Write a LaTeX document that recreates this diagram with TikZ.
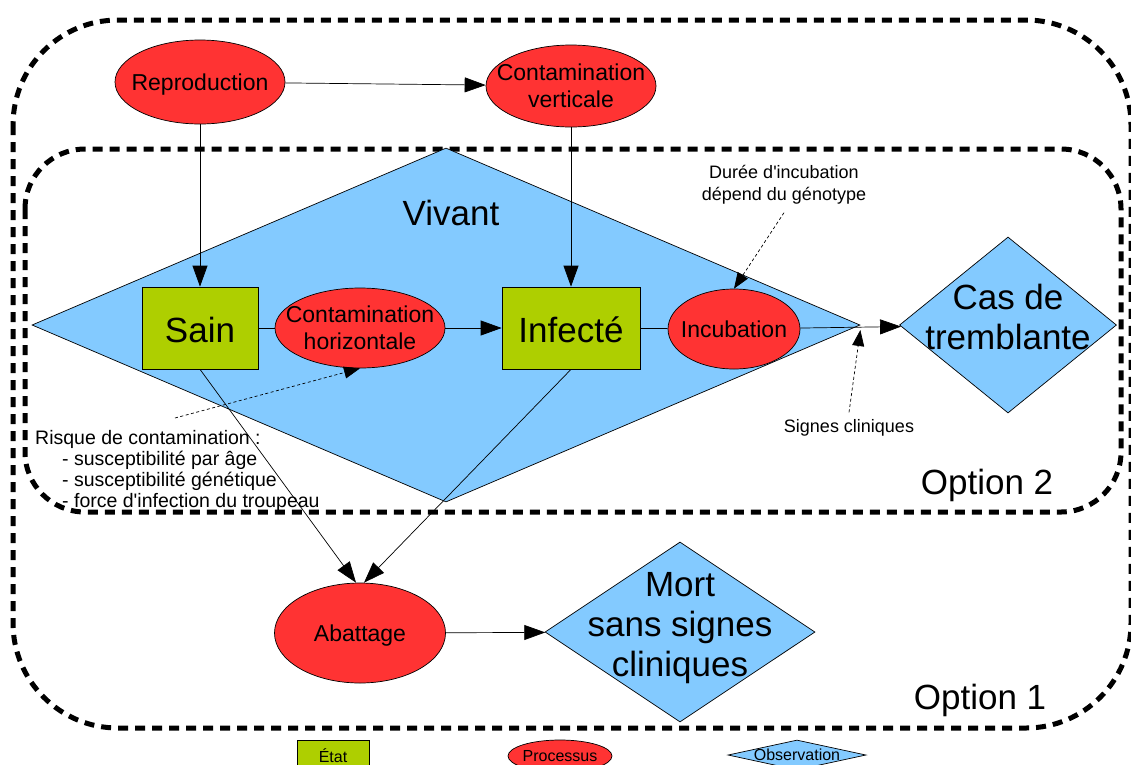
\documentclass[tikz,border=0pt]{standalone}
\usepackage{fontspec}
\setmainfont{Liberation Sans}
\usetikzlibrary{shapes.geometric,arrows.meta}

\definecolor{etatvert}{RGB}{174,207,0}
\definecolor{procrouge}{RGB}{255,51,51}
\definecolor{obsbleu}{RGB}{131,202,255}

% texte centre dans une boite de taille nulle
\newcommand{\etiq}[2][-.4em]{\makebox[0pt]{\raisebox{#1}[0pt][0pt]{\begin{tabular}{@{}c@{}}#2\end{tabular}}}}

\tikzset{
  etat/.style={draw, line width=0.7pt, fill=etatvert, inner sep=0pt, font=\fontsize{35}{40}\selectfont},
  processus/.style={draw, line width=0.7pt, ellipse, fill=procrouge, inner sep=0pt, font=\fontsize{23}{27}\selectfont},
  observation/.style={draw, line width=0.7pt, diamond, fill=obsbleu, inner sep=0pt, font=\fontsize{35}{40}\selectfont},
  fleche/.style={line width=0.7pt, -{Triangle[length=21pt,width=15pt]}},
  lien/.style={line width=0.7pt},
  renvoi/.style={line width=0.7pt, dash pattern=on 3pt off 2.5pt, -{Triangle[length=16pt,width=12pt]}},
  cadre/.style={line width=5pt, dash pattern=on 10pt off 7pt},
  grand/.style={font=\fontsize{35}{40}\selectfont, inner sep=0pt},
  note/.style={font=\fontsize{18}{22}\selectfont, align=center, inner sep=0pt},
  legende/.style={font=\fontsize{16}{18}\selectfont},
}

\begin{document}
\begin{tikzpicture}[x=1pt, y=-1pt]
\useasboundingbox[fill=white] (0,0) rectangle (1131,764);

% Options
\draw[cadre, rounded corners=105pt] (13,20) rectangle (1131,728);
\draw[cadre, rounded corners=60pt] (25,149) rectangle (1121,512);

% Vivant
\node[observation, minimum width=828pt, minimum height=354pt] (vivant) at (446,325) {};
\node[grand] (vivanttxt) at (451,213) {Vivant};

% Etats et processus
\node[processus, minimum width=170pt, minimum height=84pt] (repro) at (200,82) {\etiq{Reproduction}};
\node[processus, minimum width=170pt, minimum height=82pt] (contvert) at (571,86) {\etiq{Contamination\\verticale}};
\node[etat, minimum width=116pt, minimum height=82pt] (sain) at (200,328) {\etiq[-.35em]{Sain}};
\node[processus, minimum width=170pt, minimum height=80pt] (conthoriz) at (360,328) {\etiq{Contamination\\horizontale}};
\node[etat, minimum width=138pt, minimum height=82pt] (infecte) at (571,328) {\etiq[-.35em]{Infecté}};
\node[processus, minimum width=132pt, minimum height=80pt] (incub) at (734,329) {\etiq{Incubation}};
\node[observation, minimum width=217pt, minimum height=176pt] (cas) at (1008,325) {\etiq[-.08em]{Cas de\\tremblante}};
\node[processus, minimum width=171pt, minimum height=100pt] (abattage) at (360,633) {\etiq{Abattage}};
\node[observation, minimum width=270pt, minimum height=180pt] (mort) at (680,632) {\etiq[-.08em]{Mort\\sans signes\\cliniques}};

% Connecteurs
\draw[fleche] (repro) -- (contvert);
\draw[fleche] (repro.south) -- (sain.north);
\draw[fleche] (contvert.south) -- (infecte.north);
\draw[lien] (sain) -- (conthoriz);
\draw[fleche] (conthoriz) -- (infecte);
\draw[lien] (infecte) -- (incub);
\draw[fleche] (incub) -- (cas);
\draw[fleche] (sain.south) -- ([xshift=-4pt]abattage.north);
\draw[fleche] (infecte.south) -- ([xshift=4pt]abattage.north);
\draw[fleche] (abattage) -- (mort);

% Remarques
\node[note] (duree) at (784,185) {Durée d\textquotesingle incubation\\dépend du génotype};
\node[note] (signes) at (849,428) {Signes cliniques};
\node[anchor=north west, align=left, inner sep=0pt, font=\fontsize{19.5}{21}\selectfont] (risque) at (35,430)
  {Risque de contamination :\\
   \hspace*{27pt}- susceptibilité par âge\\
   \hspace*{27pt}- susceptibilité génétique\\
   \hspace*{27pt}- force d\textquotesingle infection du troupeau};
\coordinate (risquept) at (175,418);
\draw[renvoi] (risquept) -- (conthoriz.south);
\draw[renvoi] ([yshift=-8pt]duree.south) -- (incub.north);
\draw[renvoi] ([yshift=7pt]signes.north) -- ([yshift=-5pt]vivant.east);

\node[grand] (opt2) at (987,485) {Option 2};
\node[grand] (opt1) at (980,700) {Option 1};

% Legende
\node[etat, legende, minimum width=72pt, minimum height=32pt] (legetat) at (333,756) {\etiq{État}};
\node[processus, legende, minimum width=104pt, minimum height=32pt] (legproc) at (560,756) {\etiq{Processus}};
\node[observation, legende, minimum width=138pt, minimum height=30pt] (legobs) at (797,755) {\etiq{Observation}};
\end{tikzpicture}
\end{document}
